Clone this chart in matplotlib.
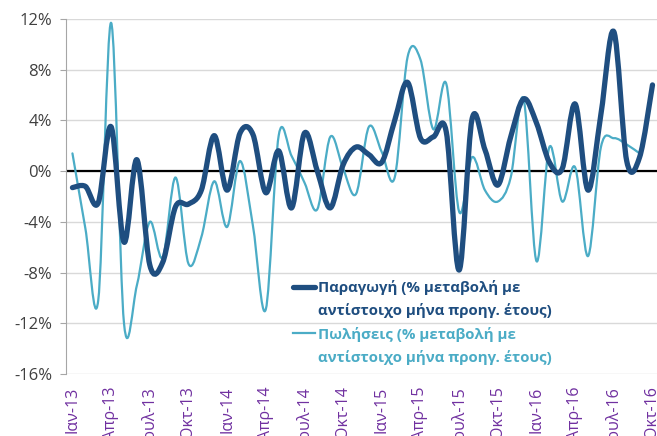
import matplotlib
matplotlib.use("Agg")
import matplotlib.pyplot as plt
from matplotlib.path import Path
from matplotlib.patches import PathPatch
from matplotlib.lines import Line2D
from matplotlib.ticker import FuncFormatter

plt.rcParams["font.family"] = ["Open Sans", "DejaVu Sans"]

# μηνιαία στοιχεία Ιαν-13 ... Οκτ-16 (% μεταβολή)
months = ["Ιαν", "Φεβ", "Μαρ", "Απρ", "Μαϊ", "Ιουν",
          "Ιουλ", "Αυγ", "Σεπ", "Οκτ", "Νοε", "Δεκ"]
years = ["13", "14", "15", "16"]
categories = [f"{m}-{y}" for y in years for m in months][:46]

production = [-1.3, -1.2, -2.5, 3.5, -5.6, 0.9, -7.4, -7.2, -2.8, -2.6, -1.5, 2.8,
              -1.5, 3.0, 2.9, -1.7, 1.6, -2.9, 3.0, 0.0, -2.9, 0.5, 1.9, 1.3,
              0.7, 4.0, 7.0, 2.6, 2.7, 3.1, -7.8, 4.1, 1.7, -1.1, 2.7, 5.7,
              3.8, 0.7, 0.2, 5.3, -1.5, 4.5, 11.0, 0.8, 1.1, 6.8]
sales = [1.4, -4.5, -10.2, 11.7, -12.0, -9.0, -4.0, -6.8, -0.5, -7.3, -5.2, -0.8,
         -4.4, 0.8, -4.3, -10.9, 2.8, 1.2, -0.9, -3.0, 2.7, 0.2, -1.8, 3.5,
         1.5, -0.5, 9.0, 8.8, 3.3, 6.9, -3.2, 1.1, -1.5, -2.4, -0.5, 5.7,
         -7.1, 1.9, -2.4, 0.3, -6.7, 1.9, 2.6, 2.1, 1.4]

label_prod = ["Παραγωγή (% μεταβολή με", "αντίστοιχο μήνα προηγ. έτους)"]
label_sales = ["Πωλήσεις (% μεταβολή με", "αντίστοιχο μήνα προηγ. έτους)"]

DARK = "#1F4E80"
LIGHT = "#4BACC6"
PURPLE = "#7030A0"


def smooth_path(values):
    # excel-like smoothed line: catmull-rom segments as cubic beziers
    pts = list(enumerate(values))
    verts = [pts[0]]
    codes = [Path.MOVETO]
    n = len(pts)
    for i in range(n - 1):
        p0 = pts[max(i - 1, 0)]
        p1 = pts[i]
        p2 = pts[i + 1]
        p3 = pts[min(i + 2, n - 1)]
        c1 = (p1[0] + (p2[0] - p0[0]) / 6, p1[1] + (p2[1] - p0[1]) / 6)
        c2 = (p2[0] - (p3[0] - p1[0]) / 6, p2[1] - (p3[1] - p1[1]) / 6)
        verts += [c1, c2, p2]
        codes += [Path.CURVE4] * 3
    return Path(verts, codes)


fig = plt.figure(figsize=(6.57, 4.36), dpi=100)
ax = fig.add_axes([66 / 657, 1 - 374 / 436, 591 / 657, 355 / 436])
ax.set_xlim(-0.5, 45.35)
ax.set_ylim(-16, 12)

ax.set_yticks(range(-16, 13, 4))
ax.yaxis.set_major_formatter(FuncFormatter(lambda v, _: f"{v:.0f}%"))
ax.grid(axis="y", color="#D9D9D9", linewidth=1)
ax.set_axisbelow(True)
ax.axhline(0, color="black", linewidth=1.6, zorder=1)

ax.add_patch(PathPatch(smooth_path(production), fill=False, edgecolor=DARK,
                       linewidth=3.8, capstyle="round", joinstyle="round", zorder=3))
ax.add_patch(PathPatch(smooth_path(sales), fill=False, edgecolor=LIGHT,
                       linewidth=1.6, capstyle="round", joinstyle="round", zorder=2))

ax.set_xticks(range(0, 46, 3))
ax.set_xticklabels(categories[::3], rotation=90, color=PURPLE, fontsize=11.5)
ax.tick_params(axis="x", length=0, pad=9)
ax.tick_params(axis="y", length=4, color="#A6A6A6", colors="#404040",
               labelsize=12, pad=6)

for side in ["top", "right", "bottom"]:
    ax.spines[side].set_visible(False)
ax.spines["left"].set_color("#A6A6A6")

# legend: each label on two rows, handle at the first row
blank = Line2D([], [], color="none")
handles = [Line2D([], [], color=DARK, linewidth=3.8, solid_capstyle="round"), blank,
           Line2D([], [], color=LIGHT, linewidth=1.6), blank]
labels = [label_prod[0], label_prod[1], label_sales[0], label_sales[1]]
leg = ax.legend(handles, labels, loc="upper left",
                bbox_to_anchor=(293 / 657, 1 - 280 / 436),
                bbox_transform=fig.transFigure, frameon=False,
                borderpad=0, borderaxespad=0, handlelength=1.45,
                handletextpad=0.2, labelspacing=0.55,
                prop={"size": 10.8, "weight": "bold"})
for txt, col in zip(leg.get_texts(), [DARK, DARK, LIGHT, LIGHT]):
    txt.set_color(col)

fig.savefig("out.png", dpi=100)
